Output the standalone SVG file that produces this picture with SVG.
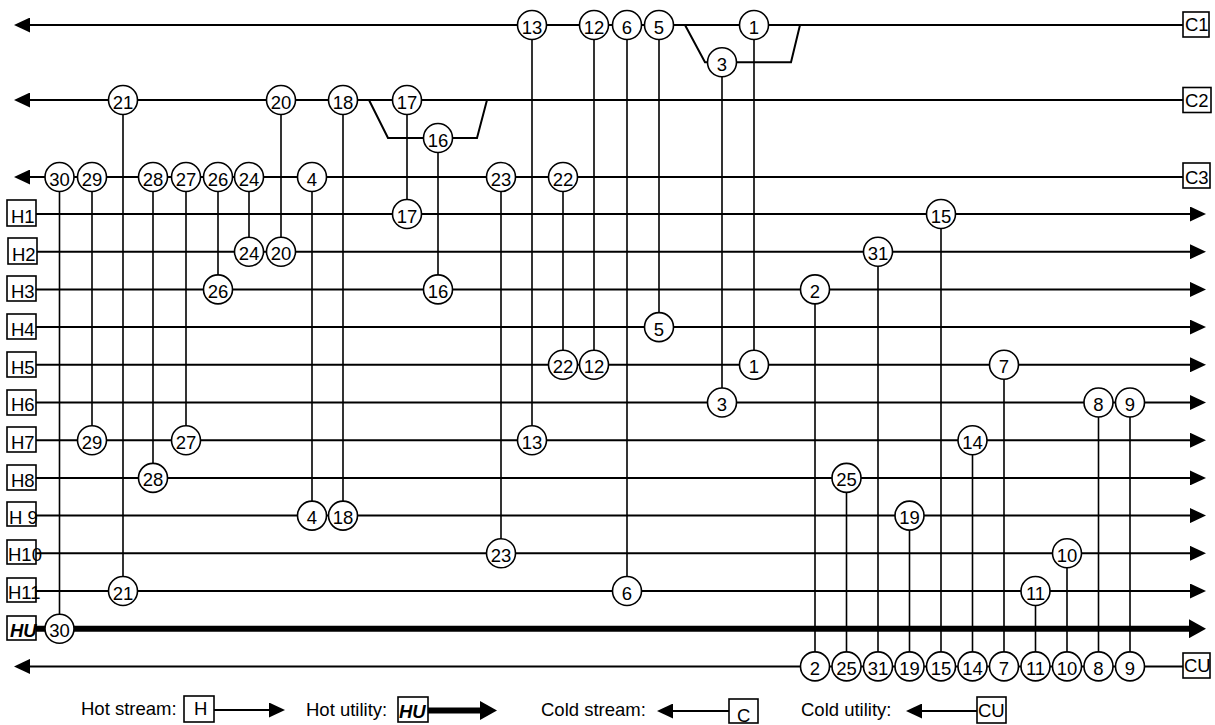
<svg xmlns="http://www.w3.org/2000/svg" width="1215" height="725" viewBox="0 0 1215 725">
<style>
.s{stroke:#000;stroke-width:2;fill:none}
.hu{stroke:#000;stroke-width:6;fill:none}
.m{stroke:#000;stroke-width:1.6;fill:none}
.n circle{fill:#fff;stroke:#000;stroke-width:1.6}
.n text{font-family:"Liberation Sans",Arial,sans-serif;font-size:18.5px;text-anchor:middle;fill:#000}
.lb rect{fill:#fff;stroke:#000;stroke-width:1.6}
.lb text{font-family:"Liberation Sans",Arial,sans-serif;font-size:18.5px;fill:#000}
.lb text.b{font-weight:bold;font-style:italic}
.lg{font-family:"Liberation Sans",Arial,sans-serif;font-size:18.5px;fill:#000}
</style>
<defs>
<marker id="ah" viewBox="0 0 16 15" markerWidth="16" markerHeight="15" refX="12" refY="7.5" orient="auto" markerUnits="userSpaceOnUse"><path d="M0,0 L16,7.5 L0,15 Z" fill="#000"/></marker>
<marker id="ahU" viewBox="0 0 17 19" markerWidth="17" markerHeight="19" refX="9" refY="9.5" orient="auto" markerUnits="userSpaceOnUse"><path d="M0,0 L17,9.5 L0,19 Z" fill="#000"/></marker>
</defs>

<g id="connectors">
<!-- cold streams -->
<line class="s" x1="1183" y1="25" x2="18" y2="25" marker-end="url(#ah)"/>
<line class="s" x1="1183" y1="100" x2="18" y2="100" marker-end="url(#ah)"/>
<line class="s" x1="1183" y1="177" x2="18" y2="177" marker-end="url(#ah)"/>
<line class="s" x1="1183" y1="666.4" x2="18" y2="666.4" marker-end="url(#ah)"/>
<!-- splits -->
<polyline class="s" points="685,25 705,62.3 791,62.3 800,25"/>
<polyline class="s" points="369,100 388,138 477,138 487,100"/>
<!-- hot streams -->
<line class="s" x1="36" y1="214" x2="1202" y2="214" marker-end="url(#ah)"/>
<line class="s" x1="36" y1="251.7" x2="1202" y2="251.7" marker-end="url(#ah)"/>
<line class="s" x1="36" y1="289.4" x2="1202" y2="289.4" marker-end="url(#ah)"/>
<line class="s" x1="36" y1="327.1" x2="1202" y2="327.1" marker-end="url(#ah)"/>
<line class="s" x1="36" y1="364.8" x2="1202" y2="364.8" marker-end="url(#ah)"/>
<line class="s" x1="36" y1="402.5" x2="1202" y2="402.5" marker-end="url(#ah)"/>
<line class="s" x1="36" y1="440.2" x2="1202" y2="440.2" marker-end="url(#ah)"/>
<line class="s" x1="36" y1="477.9" x2="1202" y2="477.9" marker-end="url(#ah)"/>
<line class="s" x1="36" y1="515.6" x2="1202" y2="515.6" marker-end="url(#ah)"/>
<line class="s" x1="36" y1="553.3" x2="1202" y2="553.3" marker-end="url(#ah)"/>
<line class="s" x1="36" y1="591" x2="1202" y2="591" marker-end="url(#ah)"/>
<line class="hu" x1="36" y1="628.7" x2="1198" y2="628.7" marker-end="url(#ahU)"/>
<!-- matches -->
<line class="m" x1="754" y1="25" x2="754" y2="364.8"/>
<line class="m" x1="815" y1="289.4" x2="815" y2="666.4"/>
<line class="m" x1="722" y1="62.3" x2="722" y2="402.5"/>
<line class="m" x1="312" y1="177" x2="312" y2="515.6"/>
<line class="m" x1="659" y1="25" x2="659" y2="327.1"/>
<line class="m" x1="627" y1="25" x2="627" y2="591"/>
<line class="m" x1="1004" y1="364.8" x2="1004" y2="666.4"/>
<line class="m" x1="1098.5" y1="402.5" x2="1098.5" y2="666.4"/>
<line class="m" x1="1130" y1="402.5" x2="1130" y2="666.4"/>
<line class="m" x1="1067" y1="553.3" x2="1067" y2="666.4"/>
<line class="m" x1="1035.5" y1="591" x2="1035.5" y2="666.4"/>
<line class="m" x1="594" y1="25" x2="594" y2="364.8"/>
<line class="m" x1="532" y1="25" x2="532" y2="440.2"/>
<line class="m" x1="972.5" y1="440.2" x2="972.5" y2="666.4"/>
<line class="m" x1="941" y1="214" x2="941" y2="666.4"/>
<line class="m" x1="438" y1="138" x2="438" y2="289.4"/>
<line class="m" x1="407" y1="100" x2="407" y2="214"/>
<line class="m" x1="343" y1="100" x2="343" y2="515.6"/>
<line class="m" x1="909.5" y1="515.6" x2="909.5" y2="666.4"/>
<line class="m" x1="281" y1="100" x2="281" y2="251.7"/>
<line class="m" x1="123" y1="100" x2="123" y2="591"/>
<line class="m" x1="563" y1="177" x2="563" y2="364.8"/>
<line class="m" x1="501" y1="177" x2="501" y2="553.3"/>
<line class="m" x1="249" y1="177" x2="249" y2="251.7"/>
<line class="m" x1="846.5" y1="477.9" x2="846.5" y2="666.4"/>
<line class="m" x1="218" y1="177" x2="218" y2="289.4"/>
<line class="m" x1="186" y1="177" x2="186" y2="440.2"/>
<line class="m" x1="153" y1="177" x2="153" y2="477.9"/>
<line class="m" x1="92" y1="177" x2="92" y2="440.2"/>
<line class="m" x1="59.5" y1="177" x2="59.5" y2="628.7"/>
<line class="m" x1="878" y1="251.7" x2="878" y2="666.4"/>
</g>

<!-- exchanger nodes -->
<g class="n">
<g id="e1a"><circle cx="754" cy="25" r="14.5"/><text x="754" y="33.5">1</text></g>
<g id="e1b"><circle cx="754" cy="364.8" r="14.5"/><text x="754" y="373.3">1</text></g>
<g id="e2a"><circle cx="815" cy="289.4" r="14.5"/><text x="815" y="297.9">2</text></g>
<g id="e2b"><circle cx="815" cy="666.4" r="14.5"/><text x="815" y="674.9">2</text></g>
<g id="e3a"><circle cx="722" cy="62.3" r="14.5"/><text x="722" y="70.8">3</text></g>
<g id="e3b"><circle cx="722" cy="402.5" r="14.5"/><text x="722" y="411">3</text></g>
<g id="e4a"><circle cx="312" cy="177" r="14.5"/><text x="312" y="185.5">4</text></g>
<g id="e4b"><circle cx="312" cy="515.6" r="14.5"/><text x="312" y="524.1">4</text></g>
<g id="e5a"><circle cx="659" cy="25" r="14.5"/><text x="659" y="33.5">5</text></g>
<g id="e5b"><circle cx="659" cy="327.1" r="14.5"/><text x="659" y="335.6">5</text></g>
<g id="e6a"><circle cx="627" cy="25" r="14.5"/><text x="627" y="33.5">6</text></g>
<g id="e6b"><circle cx="627" cy="591" r="14.5"/><text x="627" y="599.5">6</text></g>
<g id="e7a"><circle cx="1004" cy="364.8" r="14.5"/><text x="1004" y="373.3">7</text></g>
<g id="e7b"><circle cx="1004" cy="666.4" r="14.5"/><text x="1004" y="674.9">7</text></g>
<g id="e8a"><circle cx="1098.5" cy="402.5" r="14.5"/><text x="1098.5" y="411">8</text></g>
<g id="e8b"><circle cx="1098.5" cy="666.4" r="14.5"/><text x="1098.5" y="674.9">8</text></g>
<g id="e9a"><circle cx="1130" cy="402.5" r="14.5"/><text x="1130" y="411">9</text></g>
<g id="e9b"><circle cx="1130" cy="666.4" r="14.5"/><text x="1130" y="674.9">9</text></g>
<g id="e10a"><circle cx="1067" cy="553.3" r="14.5"/><text x="1067" y="561.8">10</text></g>
<g id="e10b"><circle cx="1067" cy="666.4" r="14.5"/><text x="1067" y="674.9">10</text></g>
<g id="e11a"><circle cx="1035.5" cy="591" r="14.5"/><text x="1035.5" y="599.5">11</text></g>
<g id="e11b"><circle cx="1035.5" cy="666.4" r="14.5"/><text x="1035.5" y="674.9">11</text></g>
<g id="e12a"><circle cx="594" cy="25" r="14.5"/><text x="594" y="33.5">12</text></g>
<g id="e12b"><circle cx="594" cy="364.8" r="14.5"/><text x="594" y="373.3">12</text></g>
<g id="e13a"><circle cx="532" cy="25" r="14.5"/><text x="532" y="33.5">13</text></g>
<g id="e13b"><circle cx="532" cy="440.2" r="14.5"/><text x="532" y="448.7">13</text></g>
<g id="e14a"><circle cx="972.5" cy="440.2" r="14.5"/><text x="972.5" y="448.7">14</text></g>
<g id="e14b"><circle cx="972.5" cy="666.4" r="14.5"/><text x="972.5" y="674.9">14</text></g>
<g id="e15a"><circle cx="941" cy="214" r="14.5"/><text x="941" y="222.5">15</text></g>
<g id="e15b"><circle cx="941" cy="666.4" r="14.5"/><text x="941" y="674.9">15</text></g>
<g id="e16a"><circle cx="438" cy="138" r="14.5"/><text x="438" y="146.5">16</text></g>
<g id="e16b"><circle cx="438" cy="289.4" r="14.5"/><text x="438" y="297.9">16</text></g>
<g id="e17a"><circle cx="407" cy="100" r="14.5"/><text x="407" y="108.5">17</text></g>
<g id="e17b"><circle cx="407" cy="214" r="14.5"/><text x="407" y="222.5">17</text></g>
<g id="e18a"><circle cx="343" cy="100" r="14.5"/><text x="343" y="108.5">18</text></g>
<g id="e18b"><circle cx="343" cy="515.6" r="14.5"/><text x="343" y="524.1">18</text></g>
<g id="e19a"><circle cx="909.5" cy="515.6" r="14.5"/><text x="909.5" y="524.1">19</text></g>
<g id="e19b"><circle cx="909.5" cy="666.4" r="14.5"/><text x="909.5" y="674.9">19</text></g>
<g id="e20a"><circle cx="281" cy="100" r="14.5"/><text x="281" y="108.5">20</text></g>
<g id="e20b"><circle cx="281" cy="251.7" r="14.5"/><text x="281" y="260.2">20</text></g>
<g id="e21a"><circle cx="123" cy="100" r="14.5"/><text x="123" y="108.5">21</text></g>
<g id="e21b"><circle cx="123" cy="591" r="14.5"/><text x="123" y="599.5">21</text></g>
<g id="e22a"><circle cx="563" cy="177" r="14.5"/><text x="563" y="185.5">22</text></g>
<g id="e22b"><circle cx="563" cy="364.8" r="14.5"/><text x="563" y="373.3">22</text></g>
<g id="e23a"><circle cx="501" cy="177" r="14.5"/><text x="501" y="185.5">23</text></g>
<g id="e23b"><circle cx="501" cy="553.3" r="14.5"/><text x="501" y="561.8">23</text></g>
<g id="e24a"><circle cx="249" cy="177" r="14.5"/><text x="249" y="185.5">24</text></g>
<g id="e24b"><circle cx="249" cy="251.7" r="14.5"/><text x="249" y="260.2">24</text></g>
<g id="e25a"><circle cx="846.5" cy="477.9" r="14.5"/><text x="846.5" y="486.4">25</text></g>
<g id="e25b"><circle cx="846.5" cy="666.4" r="14.5"/><text x="846.5" y="674.9">25</text></g>
<g id="e26a"><circle cx="218" cy="177" r="14.5"/><text x="218" y="185.5">26</text></g>
<g id="e26b"><circle cx="218" cy="289.4" r="14.5"/><text x="218" y="297.9">26</text></g>
<g id="e27a"><circle cx="186" cy="177" r="14.5"/><text x="186" y="185.5">27</text></g>
<g id="e27b"><circle cx="186" cy="440.2" r="14.5"/><text x="186" y="448.7">27</text></g>
<g id="e28a"><circle cx="153" cy="177" r="14.5"/><text x="153" y="185.5">28</text></g>
<g id="e28b"><circle cx="153" cy="477.9" r="14.5"/><text x="153" y="486.4">28</text></g>
<g id="e29a"><circle cx="92" cy="177" r="14.5"/><text x="92" y="185.5">29</text></g>
<g id="e29b"><circle cx="92" cy="440.2" r="14.5"/><text x="92" y="448.7">29</text></g>
<g id="e30a"><circle cx="59.5" cy="177" r="14.5"/><text x="59.5" y="185.5">30</text></g>
<g id="e30b"><circle cx="59.5" cy="628.7" r="14.5"/><text x="59.5" y="637.2">30</text></g>
<g id="e31a"><circle cx="878" cy="251.7" r="14.5"/><text x="878" y="260.2">31</text></g>
<g id="e31b"><circle cx="878" cy="666.4" r="14.5"/><text x="878" y="674.9">31</text></g>
</g>

<!-- stream labels -->
<g class="lb">
<g id="C1"><rect x="1183" y="12" width="26" height="25"/><text x="1185" y="31">C1</text></g>
<g id="C2"><rect x="1183" y="87.5" width="28" height="25"/><text x="1185" y="107">C2</text></g>
<g id="C3"><rect x="1183" y="163" width="27" height="25"/><text x="1185" y="184">C3</text></g>
<g id="CU"><rect x="1183" y="653" width="27" height="25"/><text x="1184" y="672">CU</text></g>
<g id="H1"><rect x="7" y="200" width="29" height="26"/><text x="11" y="223">H1</text></g>
<g id="H2"><rect x="8" y="238" width="29" height="26"/><text x="12" y="260.5">H2</text></g>
<g id="H3"><rect x="7" y="276" width="29" height="25"/><text x="11" y="298">H3</text></g>
<g id="H4"><rect x="7" y="314" width="29" height="25"/><text x="11" y="336">H4</text></g>
<g id="H5"><rect x="7" y="352" width="29" height="25"/><text x="11" y="373.5">H5</text></g>
<g id="H6"><rect x="7" y="390" width="29" height="25"/><text x="11" y="411">H6</text></g>
<g id="H7"><rect x="7" y="427" width="29" height="25"/><text x="11" y="449">H7</text></g>
<g id="H8"><rect x="7" y="465" width="29" height="25"/><text x="11" y="486.5">H8</text></g>
<g id="H9"><rect x="7" y="502" width="29" height="24"/><text x="9" y="524">H 9</text></g>
<g id="H10"><rect x="7" y="540" width="29" height="24"/><text x="8" y="561">H10</text></g>
<g id="H11"><rect x="7" y="578" width="29" height="24"/><text x="8" y="599">H11</text></g>
<g id="HU"><rect x="7" y="616" width="29" height="24"/><text class="b" x="10" y="637">HU</text></g>
</g>

<!-- legend -->
<g id="legend">
<text class="lg" x="81" y="715">Hot stream:</text>
<g class="lb"><rect x="184" y="696" width="30" height="26"/><text x="194" y="715">H</text></g>
<line class="s" x1="214" y1="710" x2="281" y2="710" marker-end="url(#ah)"/>
<text class="lg" x="306" y="716">Hot utility:</text>
<g class="lb"><rect x="398" y="697" width="30" height="25"/><text class="b" x="399" y="718">HU</text></g>
<line class="hu" x1="428" y1="710.5" x2="489" y2="710.5" marker-end="url(#ahU)"/>
<text class="lg" x="541" y="716">Cold stream:</text>
<line class="s" x1="729" y1="711" x2="661" y2="711" marker-end="url(#ah)"/>
<g class="lb"><rect x="729" y="699" width="29" height="24"/><text x="737" y="722">C</text></g>
<text class="lg" x="801" y="716">Cold utility:</text>
<line class="s" x1="977" y1="711" x2="910" y2="711" marker-end="url(#ah)"/>
<g class="lb"><rect x="977" y="697" width="29" height="26"/><text x="978" y="717">CU</text></g>
</g>
</svg>
